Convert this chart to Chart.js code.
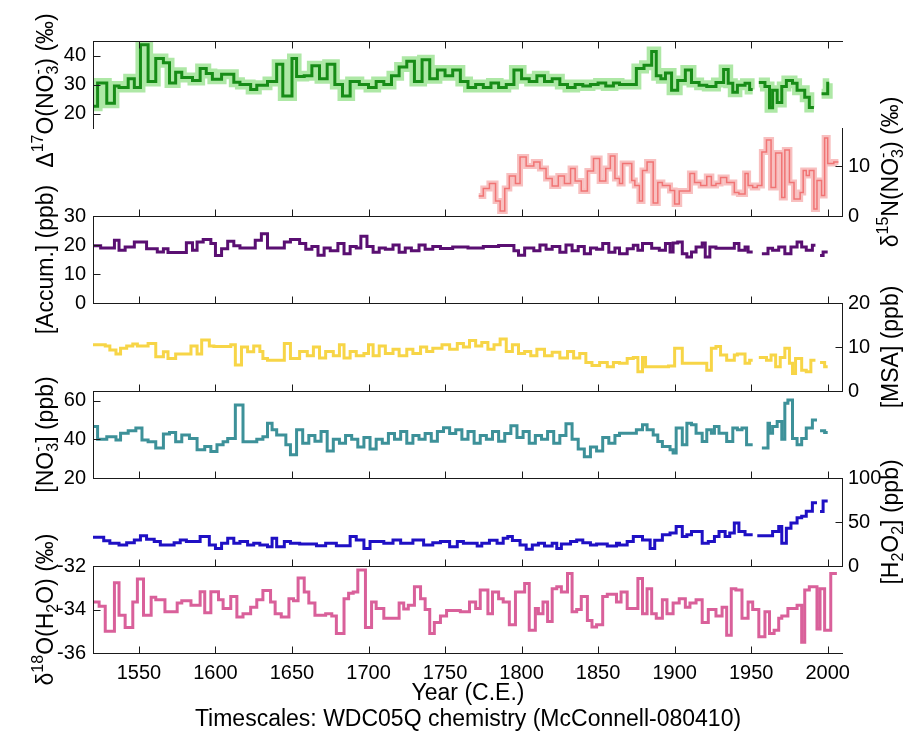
<!DOCTYPE html>
<html>
<head>
<meta charset="utf-8">
<script src="https://cdn.jsdelivr.net/npm/chart.js@4.4.1/dist/chart.umd.min.js"></script>
<style>
  html, body { margin: 0; padding: 0; background: #fff; }
  #wrap { position: relative; width: 911px; height: 733px; overflow: hidden; }
  #wrap canvas { position: absolute; left: 0; }
</style>
</head>
<body>
<div id="wrap"></div>
<script>
// x axis
const xTickYears = [1550, 1600, 1650, 1700, 1750, 1800, 1850, 1900, 1950, 2000];

// Each series: step start years (last entry = end of final step) and step values (null = gap)
const d17oYears = [
  1520, 1523, 1529, 1534, 1537, 1543, 1547, 1551, 1556, 1561,
  1566, 1570, 1574, 1578, 1585, 1590, 1594, 1598, 1604, 1612,
  1616, 1623, 1627, 1634, 1640, 1644, 1650, 1653, 1658, 1663,
  1668, 1673, 1678, 1683, 1688, 1694, 1700, 1705, 1710, 1715,
  1720, 1725, 1730, 1735, 1740, 1745, 1750, 1755, 1760, 1765,
  1770, 1775, 1780, 1785, 1790, 1795, 1800, 1805, 1810, 1815,
  1820, 1825, 1830, 1835, 1840, 1845, 1850, 1855, 1860, 1864,
  1875, 1880, 1885, 1888, 1891, 1894, 1898, 1902, 1907, 1911,
  1916, 1921, 1927, 1932, 1935, 1938, 1941, 1946, 1949, 1951,
  1955, 1959, 1962, 1964, 1967, 1970, 1973, 1977, 1980, 1985,
  1988, 1991, 1996, 2000, 2001];
const d17oValues = [
  22.5, 30.5, 23.5, 29.5, 29, 32, 29, 43.7, 31, 39,
  37.5, 30.5, 34.2, 32.4, 31.4, 35.5, 33.8, 31.8, 33.5, 30.8,
  30, 28.3, 29.7, 31, 37, 26, 39, 32.8, 33, 36.5,
  32, 37, 30, 26, 31, 30, 29, 31, 30, 33,
  36, 38, 31, 38.5, 32, 35, 33, 35, 31, 29,
  30, 29, 30.5, 29, 30, 35, 32, 31, 33, 31,
  32, 30, 29, 30, 29.5, 30, 30.5, 29.5, 30.5, 30,
  35.5, 36.6, 41.4, 33, 32, 34, 28, 31.4, 35, 30.7,
  29.7, 29.3, 30.7, 35.2, 30.4, 27.3, 29.7, 30.4, 28.3, null,
  30.7, 29.3, 22, 28, 23.8, 29.3, 31.4, 30.4, 28, 25.6,
  22.1, null, 26.8, 30.4];
const d17oTicks = [20, 30, 40];

const d15nYears = [
  1772, 1775, 1779, 1783, 1786, 1789, 1792, 1796, 1799, 1803,
  1808, 1812, 1816, 1820, 1824, 1828, 1832, 1835, 1839, 1843,
  1847, 1851, 1855, 1858, 1861, 1864, 1866, 1872, 1874, 1877,
  1879, 1882, 1886, 1889, 1892, 1897, 1900, 1903, 1910, 1913,
  1917, 1921, 1924, 1927, 1930, 1934, 1939, 1942, 1946, 1948,
  1951, 1954, 1957, 1960, 1963, 1966, 1970, 1972, 1975, 1978,
  1982, 1984, 1986, 1988, 1991, 1993, 1996, 1998, 2000, 2004,
  2007];
const d15nValues = [
  4, 5.5, 6.5, 3, 1, 5.5, 8, 6.5, 11.8, 10,
  10.8, 9.5, 7.5, 6, 8, 6.5, 9.5, 7, 5, 9,
  11.5, 7, 9.5, 12, 7.5, 6.5, 10.5, 7.1, 6.1, 3,
  9.1, 10.8, 2.6, 6.7, 6.1, 5.1, 2.4, 5, 8.5, 6.7,
  6.1, 7.9, 6.1, 6.5, 7.7, 6.7, 4.7, 4.4, 8.5, 6.1,
  5.7, 6.1, 12.8, 15.2, 5.7, 12.6, 3.7, 13.2, 6.7, 3.4,
  4.7, 9.1, 8.1, 9.1, 1.4, 7.1, 4.1, 15.6, 10.5, 10.8];
const d15nTicks = [0, 10];

const accumYears = [
  1520, 1525, 1534, 1537, 1541, 1547, 1555, 1562, 1566, 1569,
  1581, 1585, 1588, 1592, 1597, 1600, 1604, 1608, 1612, 1616,
  1626, 1630, 1634, 1645, 1649, 1655, 1659, 1663, 1667, 1671,
  1675, 1680, 1684, 1688, 1692, 1695, 1699, 1703, 1707, 1711,
  1716, 1720, 1724, 1728, 1733, 1737, 1742, 1747, 1755, 1765,
  1775, 1785, 1795, 1798, 1802, 1808, 1812, 1816, 1820, 1825,
  1829, 1833, 1837, 1841, 1845, 1849, 1853, 1857, 1861, 1864,
  1869, 1873, 1876, 1879, 1885, 1890, 1894, 1897, 1899, 1902,
  1905, 1908, 1911, 1914, 1918, 1920, 1923, 1927, 1939, 1942,
  1946, 1948, 1951, 1957, 1961, 1964, 1968, 1972, 1976, 1980,
  1983, 1986, 1990, 1992, 1995, 1997, 2000];
const accumValues = [
  19.7, 19, 21.6, 18.2, 19.3, 21, 18.7, 17.6, 18.7, 17.4,
  20.8, 18.2, 21, 21.9, 20.5, 16.4, 18.7, 21.3, 19.7, 19,
  21.6, 23.9, 19, 21, 21.9, 20.5, 18.5, 19.5, 16.5, 19,
  18, 20.5, 17, 19.5, 19, 23, 19.5, 17.5, 19, 18.5,
  20, 17.5, 19, 18, 20, 18.5, 19.5, 18.8, 19.3, 19,
  19.5, 19.8, 18, 16.5, 19, 18, 20, 18.5, 19.5, 17.5,
  20, 18, 19.5, 17, 19, 18.5, 20.5, 17.5, 19, 17,
  18.7, 19.9, 18.2, 20.5, 18.9, 18.2, 20.5, 17.6, 20.7, 21,
  17, 15.9, 17.6, 19.3, 20.7, 15.9, 19.3, 18.9, 20.5, 18.2,
  19.3, 17.6, null, 17, 18.9, 18.2, 19.3, 17, 19.3, 21,
  19.3, 18.2, 19.9, null, 16.4, 17.6];
const accumTicks = [0, 10, 20, 30];

const msaYears = [
  1520, 1528, 1531, 1535, 1538, 1542, 1546, 1549, 1556, 1561,
  1566, 1569, 1574, 1584, 1588, 1591, 1596, 1599, 1610, 1613,
  1617, 1621, 1625, 1629, 1631, 1634, 1645, 1649, 1655, 1660,
  1664, 1668, 1672, 1677, 1681, 1684, 1688, 1692, 1697, 1700,
  1703, 1707, 1711, 1716, 1720, 1725, 1729, 1734, 1738, 1742,
  1748, 1753, 1758, 1762, 1766, 1770, 1774, 1778, 1782, 1786,
  1790, 1794, 1798, 1802, 1806, 1810, 1815, 1820, 1825, 1830,
  1834, 1838, 1842, 1846, 1851, 1856, 1860, 1864, 1869, 1873,
  1876, 1879, 1881, 1896, 1900, 1905, 1921, 1924, 1927, 1930,
  1934, 1939, 1941, 1946, 1949, 1951, 1955, 1960, 1963, 1966,
  1969, 1972, 1975, 1977, 1979, 1983, 1986, 1989, 1992, 1995,
  1998, 2000];
const msaValues = [
  10.5, 10.2, 9.3, 8.4, 9.7, 10.2, 10.7, 10.2, 10.8, 7.8,
  8.9, 7.4, 8.4, 10.2, 8.4, 11.6, 10.2, 10.1, 10.5, 5.9,
  10, 8.9, 10.2, 9, 7.4, 7, 10.8, 7.4, 9, 8,
  10, 7.5, 9, 8, 10.5, 7.5, 9, 8, 8.5, 10.5,
  8, 10.2, 8.5, 9.5, 8, 9.5, 8.5, 10, 9, 9.7,
  10.5, 9.5, 10.8, 10, 11.5, 10.2, 11, 9.5, 10.5, 11.8,
  9, 10.5, 8.5, 9, 8, 9.5, 8, 8.8, 7.5, 9,
  7.5, 8.5, 6.5, 5.8, 6.5, 5.5, 6.5, 6.3, 7.4, 7.6,
  4.4, 7.6, 5.5, 5.7, 9.7, 6.3, 4.7, 9.7, 10.1, 8.2,
  7, 8.2, 8.4, 6.3, 7, null, 7.6, 7, 8.2, 5.5,
  7.6, 9.7, 6.3, 4, 7.4, 4.7, 4.4, 7, null, 6.5,
  5.5];
const msaTicks = [0, 10, 20];

const no3Years = [
  1520, 1523, 1529, 1535, 1538, 1543, 1548, 1552, 1556, 1561,
  1566, 1570, 1574, 1578, 1583, 1588, 1593, 1597, 1601, 1605,
  1608, 1613, 1618, 1627, 1631, 1634, 1637, 1640, 1646, 1649,
  1653, 1657, 1661, 1665, 1669, 1673, 1677, 1681, 1685, 1689,
  1693, 1697, 1701, 1705, 1709, 1713, 1717, 1721, 1725, 1729,
  1733, 1737, 1741, 1745, 1749, 1753, 1757, 1761, 1765, 1769,
  1773, 1777, 1781, 1785, 1789, 1793, 1797, 1801, 1805, 1809,
  1813, 1817, 1821, 1825, 1829, 1833, 1837, 1841, 1845, 1849,
  1853, 1857, 1861, 1864, 1875, 1879, 1882, 1886, 1889, 1892,
  1897, 1899, 1901, 1905, 1908, 1911, 1914, 1918, 1921, 1924,
  1926, 1929, 1934, 1938, 1941, 1944, 1947, 1951, 1957, 1961,
  1962, 1964, 1967, 1970, 1972, 1974, 1977, 1980, 1983, 1986,
  1990, 1993, 1995, 1998, 2000];
const no3Values = [
  46.6, 40, 41.3, 39.7, 43.2, 44.5, 45.8, 39.7, 38.8, 35.5,
  42.8, 43.5, 38.8, 42.3, 40.4, 34.6, 36.3, 33.7, 37.2, 38.8,
  40.4, 57.8, 38.8, 40, 41.3, 48.3, 44.9, 42.3, 37.2, 32,
  44.9, 38, 42, 39, 44, 34, 40, 38, 42, 40,
  36, 41, 35, 40, 38, 43, 40, 44, 38, 42,
  40, 43, 39, 44, 46, 43, 45, 40, 44, 38,
  42, 40, 44, 39, 43, 47, 41, 44, 38, 42,
  40, 44, 38, 42, 48, 40, 35, 31, 36, 34,
  41, 38, 42, 43.2, 44.9, 47.5, 44.9, 42.3, 38.9, 36.3,
  34.6, 32.9, 45.8, 37.2, 48.3, 47.5, 43.2, 38.9, 44.9, 43.2,
  46.6, 43.2, 38.9, 45.8, 45, 45.8, 37.2, null, 35.5, 48.3,
  43.2, 46.6, 49.2, 40, 58.6, 60.4, 40.4, 37.2, 40.4, 45.8,
  50, null, 44.5, 43.5];
const no3Ticks = [20, 40, 60];

const h2o2Years = [
  1520, 1527, 1531, 1537, 1542, 1547, 1551, 1555, 1560, 1564,
  1573, 1577, 1581, 1590, 1596, 1600, 1604, 1608, 1612, 1616,
  1621, 1625, 1629, 1634, 1637, 1640, 1645, 1649, 1655, 1666,
  1672, 1679, 1688, 1692, 1697, 1701, 1710, 1716, 1721, 1729,
  1736, 1742, 1747, 1753, 1758, 1762, 1771, 1774, 1779, 1784,
  1788, 1791, 1794, 1799, 1803, 1807, 1811, 1815, 1820, 1823,
  1826, 1832, 1836, 1840, 1845, 1849, 1856, 1862, 1864, 1869,
  1873, 1879, 1884, 1887, 1892, 1897, 1901, 1905, 1908, 1911,
  1918, 1922, 1926, 1929, 1933, 1936, 1939, 1942, 1946, 1951,
  1954, 1964, 1968, 1970, 1973, 1976, 1980, 1983, 1986, 1990,
  1993, 1995, 1997, 2000];
const h2o2Values = [
  32.7, 28.8, 25.8, 23.9, 26.5, 29.6, 34.3, 30.4, 27.7, 23.9,
  26.5, 29.6, 27.7, 33.5, 23.9, 20, 25.8, 31.6, 25.8, 27.7,
  23.9, 25.8, 23.9, 21.9, 31.6, 21.9, 27.7, 25.8, 25, 23,
  25.8, 23, 33.5, 29.6, 20, 27.7, 25.8, 29.6, 25.8, 29.6,
  23.9, 26.5, 27.7, 21.9, 27.7, 25.8, 22.7, 25.8, 29.2, 25.8,
  31.6, 33.5, 29, 23.9, 19, 23.9, 25.8, 22.7, 25.8, 20,
  25, 27.7, 29.6, 26.5, 23.9, 25, 22.7, 25.8, 23.9, 27.7,
  33.5, 29.6, 20, 29.2, 35.4, 37.4, 45, 33.5, 35.4, 39.2,
  25.8, 27.7, 33.5, 39.2, 33.5, 37.4, 48.9, 39.2, 35.4, null,
  34.5, 39.2, 45, 25.8, 43, 48.9, 54.7, 56.6, 62.3, 72,
  null, 62, 73.8];
const h2o2Ticks = [0, 50, 100];

const d18oYears = [
  1520, 1524, 1528, 1534, 1537, 1541, 1546, 1549, 1553, 1558,
  1561, 1567, 1575, 1578, 1584, 1590, 1593, 1597, 1602, 1605,
  1610, 1614, 1618, 1623, 1627, 1631, 1636, 1639, 1643, 1648,
  1651, 1654, 1658, 1661, 1665, 1672, 1676, 1679, 1684, 1687,
  1690, 1693, 1698, 1702, 1705, 1710, 1720, 1723, 1726, 1730,
  1734, 1737, 1740, 1743, 1747, 1751, 1760, 1766, 1770, 1773,
  1778, 1781, 1785, 1788, 1792, 1796, 1802, 1805, 1809, 1811,
  1814, 1817, 1820, 1823, 1826, 1830, 1833, 1836, 1839, 1843,
  1846, 1849, 1853, 1856, 1862, 1865, 1869, 1876, 1879, 1882,
  1885, 1888, 1892, 1895, 1899, 1903, 1907, 1910, 1914, 1918,
  1922, 1927, 1931, 1934, 1937, 1940, 1944, 1948, 1951, 1955,
  1959, 1962, 1965, 1968, 1970, 1974, 1980, 1983, 1985, 1988,
  1993, 1995, 1998, 2002, 2006];
const d18oValues = [
  -33.65, -33.85, -35, -32.77, -34.26, -34.83, -33.65, -32.6, -34.26, -33.44,
  -33.55, -34.1, -33.7, -33.6, -33.8, -33.18, -34.15, -33.18, -33.55, -33.95,
  -33.4, -34.35, -34.2, -33.9, -33.55, -33.13, -33.65, -34.2, -34.35, -33.5,
  -33.6, -32.55, -33.2, -33.7, -34.26, -34.2, -34.3, -35.1, -33.5, -33.25,
  -33.2, -32.18, -34.83, -33.65, -33.95, -34.4, -33.7, -33.98, -33.8, -32.95,
  -33.5, -34, -35.1, -34.6, -34.3, -34.05, -34.1, -33.65, -33.95, -33.1,
  -34.2, -33.2, -33.5, -33.65, -34.7, -33.2, -32.8, -34.95, -33.95, -34.2,
  -33.65, -34.55, -33.05, -32.95, -33.2, -32.34, -34.1, -34, -33.4, -34.5,
  -34.8, -34.7, -33.4, -33.3, -33.65, -33.2, -33.95, -32.57, -34.2, -33.05,
  -34.2, -34.4, -33.55, -34.2, -33.7, -33.5, -33.9, -33.7, -33.55, -34.6,
  -34, -34.3, -33.9, -35.18, -33.05, -33.1, -34.4, -33.65, -34, -35.25,
  -34.1, -35.1, -34.95, -34.4, -34.3, -33.95, -33.8, -35.5, -33.1, -32.95,
  -34.9, -33.05, -34.95, -32.34];
const d18oTicks = [-36, -34, -32];

const FONT = '"Liberation Sans", Arial, Helvetica, sans-serif';
Chart.defaults.font.family = FONT;
Chart.defaults.color = '#000';

// panel boundaries in page pixels (top of each panel, last = bottom axis)
const panelTops = [41, 128, 216, 303, 391, 478, 566, 653];

const panels = [
  { years: d17oYears, values: d17oValues, ticks: d17oTicks, min: 15, max: 45, side: 'left', edge: 'top',
    color: '#178c17', width: 3, band: '#aee8a6', bandWidth: 10, dy: 6,
    title: ['\u0394', {sup: '17'}, 'O(NO', {sub: '3', sup: '-'}, ') (\u2030)'] },
  { years: d15nYears, values: d15nValues, ticks: d15nTicks, min: 0, max: 17.6, side: 'right', edge: 'bottom',
    color: '#f07474', width: 1.5, band: '#f8c0c0', bandWidth: 6,
    title: ['\u03b4', {sup: '15'}, 'N(NO', {sub: '3', sup: '-'}, ') (\u2030)'] },
  { years: accumYears, values: accumValues, ticks: accumTicks, min: 0, max: 30, side: 'left', edge: 'bottom',
    color: '#5a0f72', width: 3, title: ['[Accum.] (ppb)'] },
  { years: msaYears, values: msaValues, ticks: msaTicks, min: 0, max: 20, side: 'right', edge: 'bottom',
    color: '#f7d547', width: 3, title: ['[MSA] (ppb)'] },
  { years: no3Years, values: no3Values, ticks: no3Ticks, min: 20, max: 65, side: 'left', edge: 'bottom',
    color: '#3d9199', width: 3, title: ['[NO', {sub: '3', sup: '-'}, '] (ppb)'] },
  { years: h2o2Years, values: h2o2Values, ticks: h2o2Ticks, min: 0, max: 100, side: 'right', edge: 'bottom',
    color: '#1f10c4', width: 3, title: ['[H', {sub: '2'}, 'O', {sub: '2'}, '] (ppb)'] },
  { years: d18oYears, values: d18oValues, ticks: d18oTicks, min: -36, max: -32, side: 'left', edge: 'bottom',
    color: '#d9609a', width: 3, title: ['\u03b4', {sup: '18'}, 'O(H', {sub: '2'}, 'O) (\u2030)'] }
];

// turn step edges + values into points for a stepped line
const stepPoints = (years, values) => {
  const pts = [];
  values.forEach((v, i) => {
    pts.push({x: years[i], y: v});
    if (v !== null && (i === values.length - 1 || values[i + 1] === null)) {
      pts.push({x: years[i + 1], y: v});
    }
  });
  return pts;
};

// rotated axis label with super/subscripts, reads bottom to top
const drawRich = (ctx, parts, x, y) => {
  const big = '23px ' + FONT;
  const small = '16px ' + FONT;
  const widthOf = (s, f) => { ctx.font = f; return ctx.measureText(s).width; };
  const items = parts.map(p => typeof p === 'string'
    ? {p, w: widthOf(p, big)}
    : {p, w: Math.max(p.sup ? widthOf(p.sup, small) : 0, p.sub ? widthOf(p.sub, small) : 0)});
  const total = items.reduce((s, it) => s + it.w, 0);
  ctx.save();
  ctx.translate(x, y);
  ctx.rotate(-Math.PI / 2);
  ctx.fillStyle = '#000';
  ctx.textAlign = 'left';
  ctx.textBaseline = 'alphabetic';
  let cx = -total / 2;
  items.forEach(({p, w}) => {
    if (typeof p === 'string') {
      ctx.font = big;
      ctx.fillText(p, cx, 0);
    } else {
      ctx.font = small;
      if (p.sup) ctx.fillText(p.sup, cx, -10);
      if (p.sub) ctx.fillText(p.sub, cx, 5);
    }
    cx += w;
  });
  ctx.restore();
};

// inward ticks, axis lines and the rotated label for one panel
const makeAxes = (p) => ({
  id: 'panelAxes',
  afterDraw(chart) {
    const {ctx, chartArea: a} = chart;
    const ys = chart.scales.y, xs = chart.scales.x;
    const px = v => Math.round(v) + 0.5;
    ctx.save();
    ctx.strokeStyle = '#1a1a1a';
    ctx.lineWidth = 1;
    ctx.beginPath();
    const ax = px(p.side === 'left' ? a.left : a.right - 1);
    const dir = p.side === 'left' ? 1 : -1;
    ctx.moveTo(ax, Math.round(a.top));
    ctx.lineTo(ax, Math.round(a.bottom) + 1);
    ys.ticks.forEach(t => {
      const y = px(ys.getPixelForValue(t.value));
      ctx.moveTo(ax, y);
      ctx.lineTo(ax + dir * 7, y);
    });
    const ey = px(p.edge === 'top' ? a.top : a.bottom);
    const ed = p.edge === 'top' ? 1 : -1;
    ctx.moveTo(Math.round(a.left), ey);
    ctx.lineTo(Math.round(a.right), ey);
    xTickYears.forEach(v => {
      const x = px(xs.getPixelForValue(v));
      ctx.moveTo(x, ey);
      ctx.lineTo(x, ey + ed * 7);
    });
    ctx.stroke();
    ctx.restore();
    drawRich(ctx, p.title, p.side === 'left' ? 53 : 898, (a.top + a.bottom) / 2 + (p.dy || 0));
  }
});

const wrap = document.getElementById('wrap');

panels.forEach((p, i) => {
  const top = panelTops[i];
  const bottom = panelTops[i + 1];
  const last = i === panels.length - 1;
  const cTop = top - 50;
  const cHeight = last ? 733 - cTop : (bottom - top) + 100;
  const canvas = document.createElement('canvas');
  canvas.width = 911;
  canvas.height = cHeight;
  canvas.style.top = cTop + 'px';
  wrap.appendChild(canvas);

  const pts = stepPoints(p.years, p.values);
  const datasets = [{
    data: pts, stepped: true, borderColor: p.color, borderWidth: p.width,
    pointRadius: 0, fill: false, spanGaps: false, order: 0
  }];
  if (p.band) {
    datasets.push({
      data: pts, stepped: true, borderColor: p.band, borderWidth: p.bandWidth,
      pointRadius: 0, fill: false, spanGaps: false, order: 1, borderCapStyle: 'butt'
    });
  }

  const left = p.side === 'left';
  new Chart(canvas, {
    type: 'line',
    data: { datasets },
    options: {
      responsive: false,
      animation: false,
      devicePixelRatio: 1,
      events: [],
      layout: { padding: { top: 50, bottom: last ? 0 : 50, left: left ? 0 : 93, right: left ? 68 : 0 } },
      plugins: { legend: { display: false }, tooltip: { enabled: false }, title: { display: false } },
      scales: {
        x: {
          type: 'linear', min: 1520, max: 2010, display: last, position: 'bottom',
          afterBuildTicks: s => { s.ticks = xTickYears.map(v => ({value: v})); },
          afterFit: s => { s.height = last ? 80 : 0; },
          grid: { display: false, drawTicks: false },
          border: { display: false },
          ticks: { padding: 8, maxRotation: 0, autoSkip: false, font: { size: 20 }, color: '#000', callback: v => String(v) },
          title: {
            display: true, text: ['Year (C.E.)', 'Timescales: WDC05Q chemistry (McConnell-080410)'],
            font: { size: 23, lineHeight: '26px' }, color: '#000', padding: 0
          }
        },
        y: {
          type: 'linear', position: p.side, min: p.min, max: p.max,
          afterBuildTicks: s => { s.ticks = p.ticks.map(v => ({value: v})); },
          afterFit: s => { s.width = left ? 93 : 68; },
          grid: { display: false, drawTicks: false },
          border: { display: false },
          ticks: { padding: left ? 7 : 5, autoSkip: false, font: { size: 20 }, color: '#000', callback: v => String(v) }
        }
      }
    },
    plugins: [makeAxes(p)]
  });
});
</script>
</body>
</html>
